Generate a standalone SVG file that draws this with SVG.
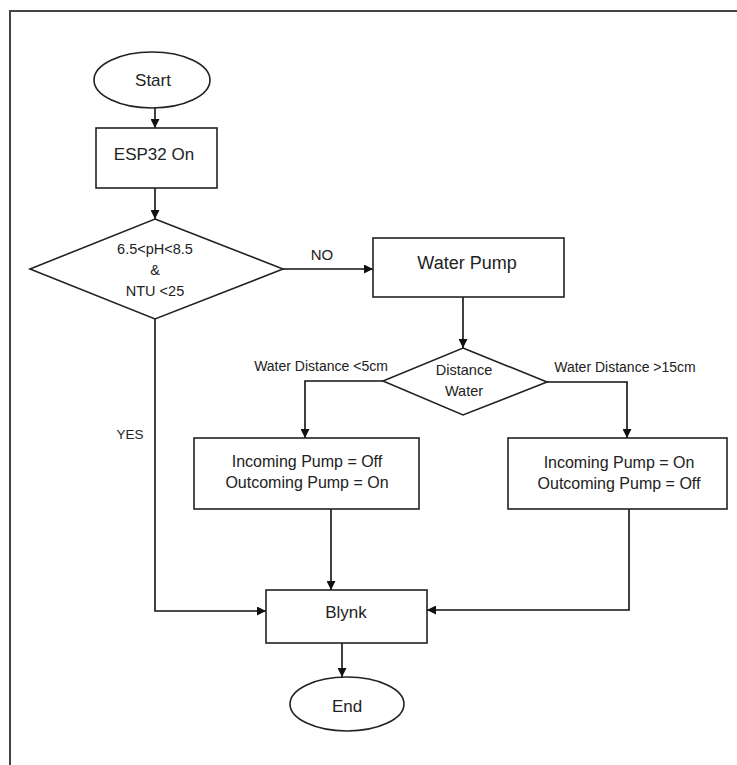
<svg xmlns="http://www.w3.org/2000/svg" width="737" height="765" viewBox="0 0 737 765">
<style>
.s{fill:#fff;stroke:#222;stroke-width:1.6}
.c{fill:none;stroke:#111;stroke-width:1.6}
text{font-family:"Liberation Sans",Arial,sans-serif;fill:#222;text-anchor:middle;dominant-baseline:central}
</style>
<defs>
<marker id="a" viewBox="0 0 10 10" refX="10" refY="5" markerWidth="9" markerHeight="9" markerUnits="userSpaceOnUse" orient="auto">
<path d="M0,0 L10,5 L0,10 z" fill="#111"/>
</marker>
</defs>
<rect width="737" height="765" fill="#fff"/>
<path d="M10,765 V11 H737" fill="none" stroke="#444" stroke-width="2"/>
<g id="connectors">
<path class="c" d="M155,107 V128" marker-end="url(#a)"/>
<path class="c" d="M155,188 V219" marker-end="url(#a)"/>
<path class="c" d="M283,269 H373" marker-end="url(#a)"/>
<path class="c" d="M463,297 V348" marker-end="url(#a)"/>
<path class="c" d="M383,381 H305 V438" marker-end="url(#a)"/>
<path class="c" d="M547,382 H627 V438" marker-end="url(#a)"/>
<path class="c" d="M331,509 V590" marker-end="url(#a)"/>
<path class="c" d="M155,319 V611 H266" marker-end="url(#a)"/>
<path class="c" d="M629,509 V610 H427" marker-end="url(#a)"/>
<path class="c" d="M342,643 V677" stroke-width="2.4" marker-end="url(#a)"/>
<text x="322" y="254" font-size="15">NO</text>
<text x="130" y="434" font-size="13.5">YES</text>
<text x="321" y="366" font-size="14">Water Distance &lt;5cm</text>
<text x="625" y="367" font-size="14">Water Distance &gt;15cm</text>
</g>
<g id="start">
<ellipse class="s" cx="152" cy="80" rx="58" ry="28"/>
<text x="153" y="80" font-size="17">Start</text>
</g>
<g id="esp32">
<rect class="s" x="96" y="128" width="121" height="60"/>
<text x="154" y="154" font-size="17">ESP32 On</text>
</g>
<g id="check">
<polygon class="s" points="155,219 283,269 155,319 30,269"/>
<text x="155" y="249" font-size="14.5">6.5&lt;pH&lt;8.5</text>
<text x="155" y="270" font-size="14.5">&amp;</text>
<text x="155" y="291" font-size="14.5">NTU &lt;25</text>
</g>
<g id="pump">
<rect class="s" x="373" y="238" width="191" height="59"/>
<text x="467" y="263" font-size="18">Water Pump</text>
</g>
<g id="distance">
<polygon class="s" points="463,348 547,382 463,415 383,381"/>
<text x="464" y="370" font-size="14.5">Distance</text>
<text x="464" y="391" font-size="14.5">Water</text>
</g>
<g id="low">
<rect class="s" x="194" y="438" width="225" height="71"/>
<text x="307" y="461" font-size="16">Incoming Pump = Off</text>
<text x="307" y="482" font-size="16">Outcoming Pump = On</text>
</g>
<g id="high">
<rect class="s" x="508" y="438" width="219" height="71"/>
<text x="619" y="462" font-size="16">Incoming Pump = On</text>
<text x="619" y="483" font-size="16">Outcoming Pump = Off</text>
</g>
<g id="blynk">
<rect class="s" x="266" y="590" width="161" height="53"/>
<text x="346" y="612" font-size="17">Blynk</text>
</g>
<g id="end">
<ellipse class="s" cx="347" cy="704" rx="57" ry="27"/>
<text x="347" y="706" font-size="17">End</text>
</g>
</svg>
